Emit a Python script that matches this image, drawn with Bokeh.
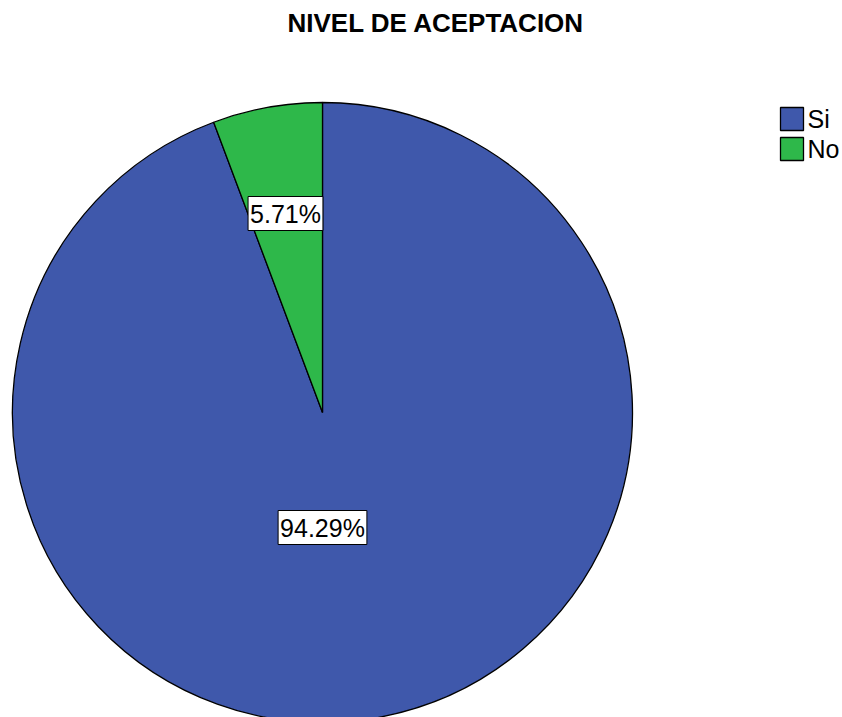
import math
from bokeh.plotting import figure
from bokeh.models import Range1d, Label
from bokeh.core.properties import value
from bokeh.embed import file_html
from bokeh.resources import INLINE

title_text = "NIVEL DE ACEPTACION"
categories = ["Si", "No"]
percents = [94.29, 5.71]
colors = ["#3F58AB", "#2EB84A"]
label_texts = ["94.29%", "5.71%"]

W, H = 842, 717
PAGE_H = 717


def Y(py):
    return PAGE_H - py


p = figure(width=W, height=H, output_backend="svg", toolbar_location=None,
           x_range=Range1d(0, W), y_range=Range1d(PAGE_H - H, PAGE_H),
           min_border=0, outline_line_color=None)
p.axis.visible = False
p.grid.visible = False

cx, cy, R = 322, Y(412), 310
FONT = "Liberation Sans"

# Slices: "No" starts at 12 o'clock and goes counter-clockwise, then "Si"
total = sum(percents)
start = math.pi / 2
angles = {}
for cat, pct in [(categories[1], percents[1]), (categories[0], percents[0])]:
    end = start + pct / total * 2 * math.pi
    angles[cat] = (start, end)
    start = end

for cat, col in zip(categories, colors):
    a0, a1 = angles[cat]
    p.wedge(x=cx, y=cy, radius=R, start_angle=a0, end_angle=a1,
            fill_color=col, line_color="black", line_width=1.3)

label_pos = {"Si": (322, 527), "No": (285, 213)}
for cat, txt in zip(categories, label_texts):
    lx, ly = label_pos[cat]
    p.add_layout(Label(x=lx, y=Y(ly), text=txt, text_align="center",
                       text_baseline="middle", text_font=FONT,
                       text_font_size="25px", text_color="black",
                       background_fill_color="white", border_line_color="black",
                       border_line_width=1, padding=(2, 3)))

# Title
p.add_layout(Label(x=435.5, y=Y(22), text=title_text, text_align="center",
                   text_baseline="middle", text_font=FONT, text_font_size="26px",
                   text_font_style="bold", text_color="black"))

# Legend
for i, (cat, col) in enumerate(zip(categories, colors)):
    yy = Y(118.5 + 30 * i)
    p.rect(x=791.5, y=yy, width=23, height=23, fill_color=col,
           line_color="black", line_width=1.3)
    p.text(x=[807], y=[yy], text=[cat], text_font=value(FONT),
           text_font_size="25px", text_baseline="middle", text_align="left",
           text_color="black")

open("out.html", "w").write(file_html(p, INLINE))
